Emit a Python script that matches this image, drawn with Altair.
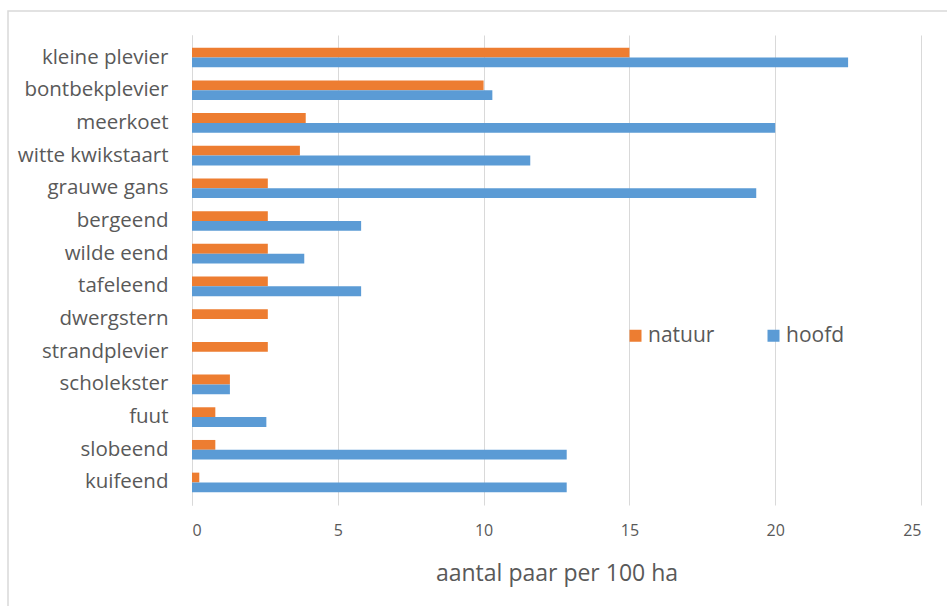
import altair as alt
import pandas as pd

# Breeding pairs per 100 ha, two area types per species
species = [
    "kleine plevier", "bontbekplevier", "meerkoet", "witte kwikstaart",
    "grauwe gans", "bergeend", "wilde eend", "tafeleend", "dwergstern",
    "strandplevier", "scholekster", "fuut", "slobeend", "kuifeend",
]
natuur = [15.0, 10.0, 3.9, 3.7, 2.6, 2.6, 2.6, 2.6, 2.6, 2.6, 1.3, 0.8, 0.8, 0.25]
hoofd = [22.5, 10.3, 20.0, 11.6, 19.35, 5.8, 3.85, 5.8, 0.0, 0.0, 1.3, 2.55, 12.85, 12.85]
series = ["natuur", "hoofd"]
colors = ["#ED7D31", "#5B9BD5"]
x_ticks = [0, 5, 10, 15, 20, 25]

rows = []
for s, n, h in zip(species, natuur, hoofd):
    rows.append({"soort": s, "reeks": "natuur", "waarde": n})
    rows.append({"soort": s, "reeks": "hoofd", "waarde": h})
df = pd.DataFrame(rows)

TEXT = "#595959"
GRID = "#d9d9d9"
FONT = "Open Sans"

bars = alt.Chart(df).mark_bar().encode(
    x=alt.X(
        "waarde:Q",
        scale=alt.Scale(domain=[0, 25], nice=False, zero=True),
        axis=alt.Axis(
            values=x_ticks,
            title="aantal paar per 100 ha",
            grid=True,
            gridColor=GRID,
            domain=False,
            ticks=False,
            tickSize=0,
            labelPadding=17,
            labelFontSize=16,
            labelColor=TEXT,
            titleFontSize=23,
            titleFontWeight="normal",
            titleColor=TEXT,
            titlePadding=24,
        ),
    ),
    y=alt.Y(
        "soort:N",
        sort=species,
        scale=alt.Scale(paddingInner=0.4, paddingOuter=0.39),
        axis=alt.Axis(
            title=None,
            domain=True,
            domainColor=GRID,
            ticks=False,
            tickSize=0,
            grid=False,
            labelPadding=24,
            labelFontSize=20.5,
            labelColor=TEXT,
            labelLimit=300,
        ),
    ),
    yOffset=alt.YOffset("reeks:N", sort=series),
    color=alt.Color(
        "reeks:N",
        scale=alt.Scale(domain=series, range=colors),
        legend=alt.Legend(
            title=None,
            orient="none",
            legendX=433,
            legendY=290,
            direction="horizontal",
            symbolType="square",
            symbolSize=144,
            symbolStrokeWidth=0,
            labelFontSize=21,
            labelColor=TEXT,
            labelOffset=2,
            columnPadding=48,
        ),
    ),
)

# Thin frame around the whole chart
frame = alt.Chart(alt.Data(values=[{}])).mark_rect(
    fill=None, stroke=GRID, strokeWidth=1.5
).encode(
    x=alt.value(-184), x2=alt.value(800),
    y=alt.value(-24), y2=alt.value(620),
)

chart = alt.layer(frame, bars).properties(
    width=729,
    height=470,
    padding={"left": 192, "top": 35, "right": 26, "bottom": 101},
    autosize=alt.AutoSizeParams(type="none"),
    background="white",
).configure(
    font=FONT,
).configure_view(
    stroke=None,
)

chart.save("out.html", embed_options={"renderer": "svg", "actions": False})
